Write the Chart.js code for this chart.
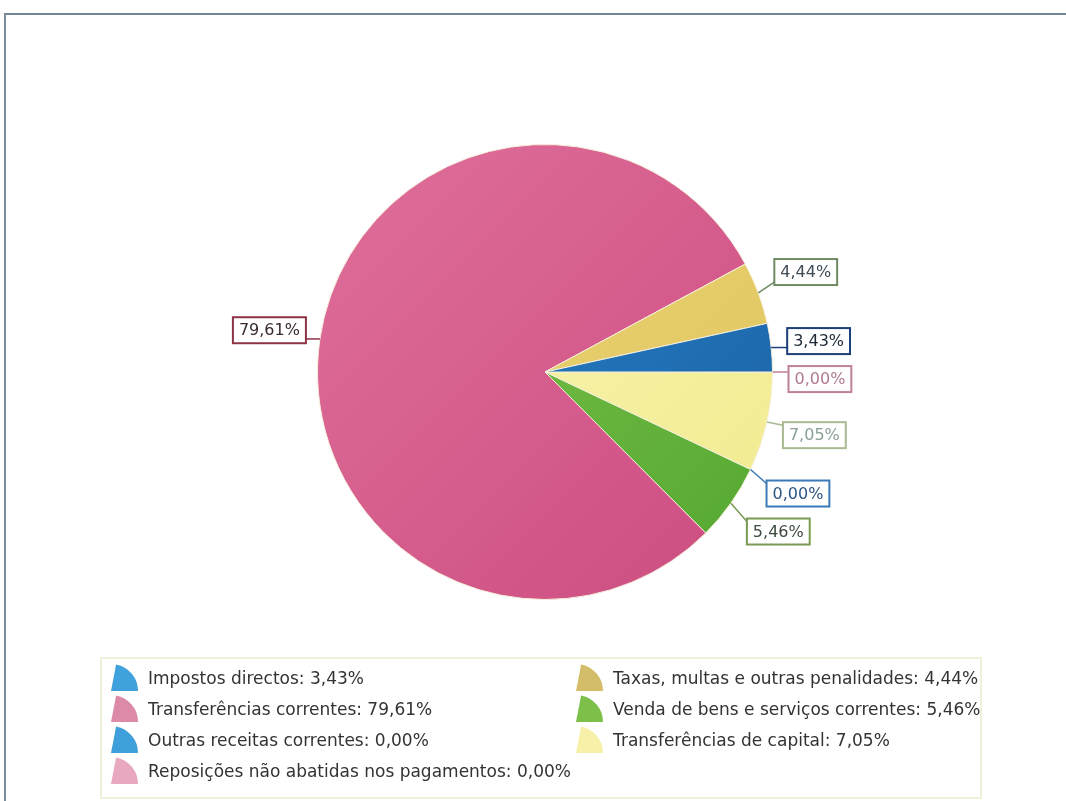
<!DOCTYPE html>
<html>
<head>
<meta charset="utf-8">
<script src="https://cdn.jsdelivr.net/npm/chart.js@4/dist/chart.umd.min.js"></script>
<style>
  html, body { margin: 0; padding: 0; background: #fff; overflow: hidden; }
  #wrap { position: relative; width: 1066px; height: 801px; }
  #frame {
    position: absolute; left: 4px; top: 13px; width: 1080px; height: 800px;
    border-top: 2px solid #6f8797; border-left: 2px solid #7d8f9b;
  }
  canvas { position: absolute; left: 0; top: 0; }
</style>
</head>
<body>
<div id="wrap">
  <div id="frame"></div>
  <canvas id="chart" width="1066" height="801"></canvas>
</div>
<script>
// Legend order (counter-clockwise from 3 o'clock in the picture)
const categories = [
  "Impostos directos",
  "Taxas, multas e outras penalidades",
  "Transferências correntes",
  "Venda de bens e serviços correntes",
  "Outras receitas correntes",
  "Transferências de capital",
  "Reposições não abatidas nos pagamentos"
];
const percentages = [3.43, 4.44, 79.61, 5.46, 0.00, 7.05, 0.00];

// styles, per category
const sliceLight  = ["#2a88d0", "#eed678", "#df6f9a", "#86c850", "#3a9ad8", "#fcf8bc", "#f0b0c8"];
const sliceDark   = ["#1b5fa2", "#dec45e", "#cc4c80", "#52a630", "#2a78b8", "#f0ea8c", "#d890b0"];
const legendColor = ["#3fa2dc", "#d4bd68", "#dd8aa8", "#7cc04a", "#3f9fda", "#f7f0a8", "#e8a8c0"];
const boxBorder   = ["#1d3f78", "#6f8a62", "#8e3346", "#7a9a52", "#3a7ab6", "#a9ba92", "#c08096"];
const boxText     = ["#1c2838", "#3e4c58", "#3a2a33", "#3c4a3c", "#2a5686", "#8aa094", "#b07892"];

const fmt = v => v.toFixed(2).replace(".", ",") + "%";

// Chart.js draws clockwise, the picture runs counter-clockwise -> reverse
const order = categories.map((_, i) => i).reverse();
const pieLabels = order.map(i => categories[i]);
const pieValues = order.map(i => percentages[i]);

function grad(ctx, i) {
  const area = ctx.chart.chartArea;
  if (!area) return sliceDark[i];
  const g = ctx.chart.ctx.createLinearGradient(area.left, area.top, area.right, area.bottom);
  g.addColorStop(0, sliceLight[i]);
  g.addColorStop(1, sliceDark[i]);
  return g;
}

// value boxes with leader lines
const calloutPlugin = {
  id: "callouts",
  afterDatasetsDraw(chart) {
    const ctx = chart.ctx;
    const meta = chart.getDatasetMeta(0);
    ctx.save();
    ctx.font = "16px 'DejaVu Sans', Verdana, sans-serif";
    const items = meta.data.map((arc, k) => {
      const i = order[k];
      const mid = (arc.startAngle + arc.endAngle) / 2;
      const r = arc.outerRadius;
      const ax = arc.x + Math.cos(mid) * r;
      const ay = arc.y + Math.sin(mid) * r;
      const right = Math.cos(mid) >= 0;
      const txt = fmt(percentages[i]);
      const w = ctx.measureText(txt).width + 12;
      const dy = Math.max(-24, Math.min(24, Math.sin(mid) * 60));
      return { i, ax, ay, right, txt, w, h: 26, y: ay + dy };
    });
    // push apart boxes on each side
    [true, false].forEach(side => {
      const s = items.filter(o => o.right === side).sort((a, b) => a.y - b.y);
      for (let k = 1; k < s.length; k++) {
        if (s[k].y - s[k - 1].y < 38) s[k].y = s[k - 1].y + 38;
      }
    });
    items.forEach(o => {
      const bx = o.right ? o.ax + 16 : o.ax - 14 - o.w;
      const by = o.y - o.h / 2;
      const ex = o.right ? bx : bx + o.w;
      const ey = Math.min(Math.max(o.ay, by + 3), by + o.h - 3);
      ctx.strokeStyle = boxBorder[o.i];
      ctx.lineWidth = 1.5;
      ctx.beginPath();
      ctx.moveTo(o.ax, o.ay);
      ctx.lineTo(ex, ey);
      ctx.stroke();
      ctx.fillStyle = "#fff";
      ctx.fillRect(bx, by, o.w, o.h);
      ctx.lineWidth = 2;
      ctx.strokeRect(bx, by, o.w, o.h);
      ctx.fillStyle = boxText[o.i];
      ctx.textAlign = "center";
      ctx.textBaseline = "middle";
      ctx.fillText(o.txt, bx + o.w / 2, by + o.h / 2 + 1);
    });
    ctx.restore();
  }
};

// two-column legend with little pie-slice icons
const legendPlugin = {
  id: "sliceLegend",
  afterDraw(chart) {
    const ctx = chart.ctx;
    ctx.save();
    ctx.strokeStyle = "#eef0dc";
    ctx.lineWidth = 2;
    ctx.strokeRect(101, 658, 880, 140);
    ctx.font = "17px 'DejaVu Sans', Verdana, sans-serif";
    ctx.textBaseline = "middle";
    ctx.textAlign = "left";
    categories.forEach((name, i) => {
      const col = i % 2, row = Math.floor(i / 2);
      const x = col ? 576 : 111;
      const y = 680 + row * 31;
      ctx.fillStyle = legendColor[i];
      ctx.beginPath();
      ctx.moveTo(x, y + 11);
      ctx.arc(x, y + 11, 27, -1.38, 0);
      ctx.closePath();
      ctx.fill();
      ctx.fillStyle = "#333";
      ctx.fillText(name + ": " + fmt(percentages[i]), x + 37, y);
    });
    ctx.restore();
  }
};

new Chart(document.getElementById("chart"), {
  type: "pie",
  data: {
    labels: pieLabels,
    datasets: [{
      data: pieValues,
      backgroundColor: ctx => grad(ctx, order[ctx.dataIndex]),
      borderColor: "#f6f0dc",
      borderWidth: 1
    }]
  },
  options: {
    responsive: false,
    animation: false,
    rotation: 90,
    layout: { padding: { top: 144, bottom: 201, left: 317, right: 293 } },
    plugins: {
      legend: { display: false },
      tooltip: { enabled: false }
    }
  },
  plugins: [calloutPlugin, legendPlugin]
});
</script>
</body>
</html>
